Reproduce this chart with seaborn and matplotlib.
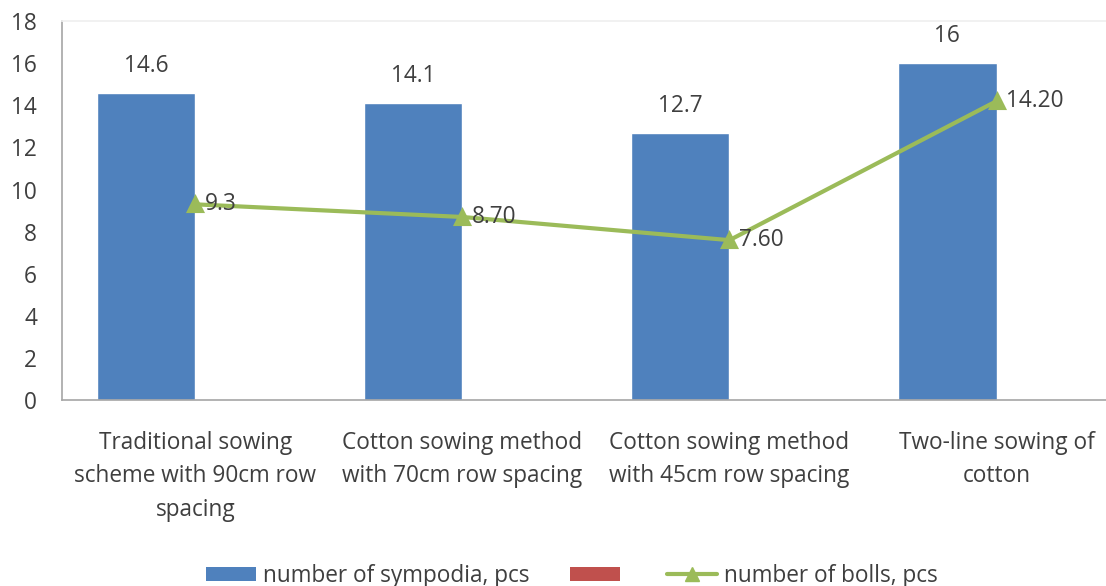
import matplotlib
matplotlib.use("Agg")
import matplotlib.pyplot as plt
import seaborn as sns
import pandas as pd
from matplotlib.patches import Patch
from matplotlib.lines import Line2D

categories = [
    "Traditional sowing\nscheme with 90cm row\nspacing",
    "Cotton sowing method\nwith 70cm row spacing",
    "Cotton sowing method\nwith 45cm row spacing",
    "Two-line sowing of\ncotton",
]
sympodia = [14.6, 14.1, 12.7, 16.0]
sympodia_labels = ["14.6", "14.1", "12.7", "16"]
empty_series = [0, 0, 0, 0]
bolls = [9.3, 8.70, 7.60, 14.20]
bolls_labels = ["9.3", "8.70", "7.60", "14.20"]
y_ticks = [0, 2, 4, 6, 8, 10, 12, 14, 16, 18]

BLUE = "#4F81BD"
RED = "#C0504D"
GREEN = "#9BBB59"
TEXT = "#3F3F3F"
FS = 16.3

sns.set_theme(style="white")
plt.rcParams["font.family"] = ["Open Sans", "DejaVu Sans"]

bars = pd.DataFrame({
    "category": categories * 2,
    "series": ["sympodia"] * 4 + ["empty"] * 4,
    "value": sympodia + empty_series,
})
line = pd.DataFrame({"category": categories, "value": bolls})

fig = plt.figure(figsize=(11.06, 5.86), dpi=100)
ax = fig.add_axes([0.056, 0.317, 0.944, 0.647])

sns.barplot(data=bars, x="category", y="value", hue="series",
            palette={"sympodia": BLUE, "empty": RED}, width=0.74,
            saturation=1, legend=False, ax=ax)
sns.pointplot(data=line, x="category", y="value", color=GREEN,
              markers="^", markersize=10, linewidth=3, ax=ax)

for i, (v, t) in enumerate(zip(sympodia, sympodia_labels)):
    ax.text(i - 0.185, v + 0.7, t, ha="center", va="bottom",
            fontsize=FS, color=TEXT)
for i, (v, t) in enumerate(zip(bolls, bolls_labels)):
    ax.text(i + 0.035, v, t, ha="left", va="center", fontsize=FS, color=TEXT)

ax.set_ylim(0, 18)
ax.set_xlim(-0.5, 3.41)
ax.set_yticks(y_ticks)
ax.set_xlabel("")
ax.set_ylabel("")
ax.tick_params(axis="y", length=0, pad=18, labelsize=FS, labelcolor=TEXT)
ax.tick_params(axis="x", length=0, pad=22, labelsize=FS, labelcolor=TEXT)
for lbl in ax.get_xticklabels():
    lbl.set_linespacing(1.52)

for side in ["left", "bottom"]:
    ax.spines[side].set_color("#A6A6A6")
    ax.spines[side].set_linewidth(1.2)
ax.spines["top"].set_color("#F0F0F0")
ax.spines["right"].set_visible(False)

handles = [
    Patch(facecolor=BLUE, edgecolor="none"),
    Patch(facecolor=RED, edgecolor="none"),
    Line2D([0], [0], color=GREEN, lw=3, marker="^", markersize=10),
]
labels = ["number of sympodia, pcs", "", "number of bolls, pcs"]
fig.legend(handles, labels, loc="center", bbox_to_anchor=(0.517, 0.017),
           ncol=3, frameon=False, fontsize=FS, handlelength=2.2,
           handleheight=0.6, columnspacing=1.8, handletextpad=0.3,
           labelcolor=TEXT)

fig.savefig("out.png", dpi=100, facecolor="white")
